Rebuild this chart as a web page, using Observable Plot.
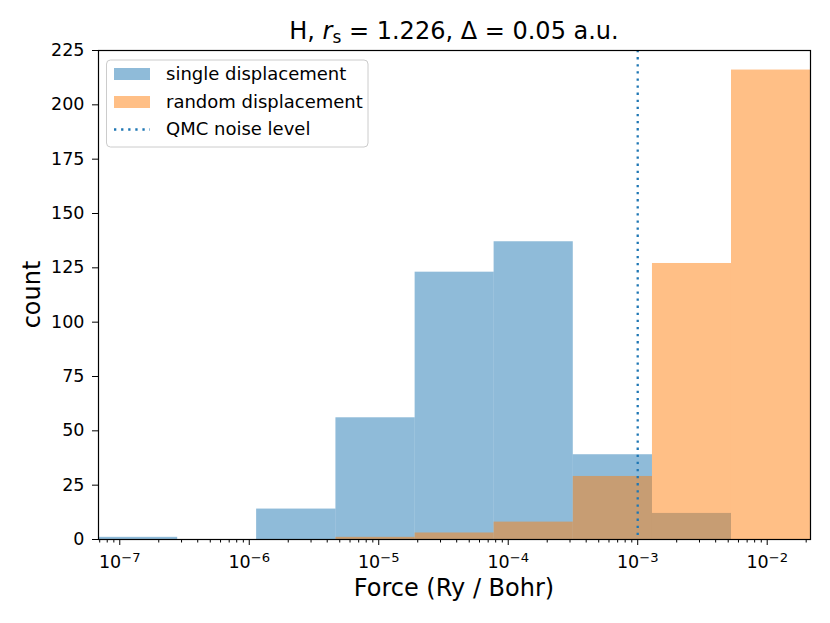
<!DOCTYPE html>
<html>
<head>
<meta charset="utf-8">
<script src="https://cdn.jsdelivr.net/npm/d3@7"></script>
<script src="https://cdn.jsdelivr.net/npm/@observablehq/plot@0.6"></script>
<style>
  body { margin: 0; background: #fff; }
  #wrap { width: 830px; height: 623px; }
</style>
</head>
<body>
<div id="wrap"></div>
<script>
// ---- data ----
const binEdges = [6.85e-8, 2.80e-7, 1.14e-6, 4.67e-6, 1.91e-5, 7.78e-5, 3.18e-4, 1.30e-3, 5.30e-3, 2.16e-2];
const singleCounts = [1, 0, 14, 56, 123, 137, 39, 12, 0];
const randomCounts = [0, 0, 0, 1, 3, 8, 29, 127, 216];
const noiseLevel = [1e-3];
const xMajorTicks = [1e-7, 1e-6, 1e-5, 1e-4, 1e-3, 1e-2];
const yTicks = [0, 25, 50, 75, 100, 125, 150, 175, 200, 225];
const seriesNames = ["single displacement", "random displacement", "QMC noise level"];
const titleText = "H, r_s = 1.226, Δ = 0.05 a.u.";
const xLabel = "Force (Ry / Bohr)";
const yLabel = "count";

const blue = "#1f77b4", orange = "#ff7f0e";
const FONT = "DejaVu Sans";

// minor log ticks 2..9 x 10^e inside domain
const xMinorTicks = [];
for (let e = -8; e <= -2; e++) for (let k = 2; k <= 9; k++) {
  const v = k * Math.pow(10, e);
  if (v >= binEdges[0] && v <= binEdges[binEdges.length - 1]) xMinorTicks.push(v);
}

const toBins = counts => counts.map((c, i) => ({x1: binEdges[i], x2: binEdges[i + 1], count: c})).filter(d => d.count > 0);

const chart = Plot.plot({
  width: 830, height: 623,
  marginTop: 50, marginBottom: 84, marginLeft: 98, marginRight: 20,
  style: {fontFamily: FONT, fontSize: "17px", color: "black", background: "white", overflow: "visible"},
  x: {type: "log", domain: [binEdges[0], binEdges[binEdges.length - 1]]},
  y: {domain: [0, 225]},
  marks: [
    Plot.rectY(toBins(singleCounts), {x1: "x1", x2: "x2", y: "count", fill: blue, fillOpacity: 0.5, inset: 0}),
    Plot.rectY(toBins(randomCounts), {x1: "x1", x2: "x2", y: "count", fill: orange, fillOpacity: 0.5, inset: 0}),
    Plot.ruleX(noiseLevel, {stroke: blue, strokeWidth: 2.3, strokeDasharray: "2.3,4.8"}),
    Plot.axisX({ticks: xMajorTicks, tickSize: 6, tickPadding: 10, tickFormat: d => "10^" + Math.round(Math.log10(d)), label: null, fontSize: 17.5}),
    Plot.axisX({ticks: xMinorTicks, tickSize: 3.5, tickFormat: () => "", label: null}),
    Plot.axisY({ticks: yTicks, tickSize: 6, tickPadding: 8, label: null, fontSize: 17.5}),
    Plot.frame({stroke: "black", strokeWidth: 1.2})
  ]
});
document.getElementById("wrap").appendChild(chart);

const svg = d3.select(chart);
// superscript exponents in x tick labels
svg.selectAll("text").each(function() {
  const t = this.textContent;
  const m = /^10\^(-?\d+)$/.exec(t);
  if (!m) return;
  const sel = d3.select(this);
  sel.text("");
  sel.append("tspan").text("10");
  sel.append("tspan").attr("dy", "-0.45em").attr("font-size", "0.75em").text(m[1].replace("-", "\u2212"));
});

const plotLeft = 98, plotRight = 810, plotTop = 50, plotBottom = 539;
const cx = (plotLeft + plotRight) / 2;

// title with italic r and subscript s
const tparts = titleText.split("r_s");
const title = svg.append("text").attr("x", cx).attr("y", 39.3).attr("text-anchor", "middle")
  .attr("font-family", FONT).attr("font-size", 24).attr("fill", "black");
title.append("tspan").text(tparts[0]);
title.append("tspan").attr("font-style", "italic").text("r");
title.append("tspan").attr("font-size", 17).attr("dy", 4).text("s");
title.append("tspan").attr("dy", -4).text(tparts[1]);

// axis labels
svg.append("text").attr("x", cx).attr("y", 596).attr("text-anchor", "middle")
  .attr("font-family", FONT).attr("font-size", 24).attr("fill", "black").text(xLabel);
svg.append("text").attr("transform", `translate(40,${(plotTop + plotBottom) / 2}) rotate(-90)`)
  .attr("text-anchor", "middle").attr("font-family", FONT).attr("font-size", 24).attr("fill", "black").text(yLabel);

// legend
const lg = svg.append("g").attr("font-family", FONT).attr("font-size", 18).attr("text-anchor", "start");
lg.append("rect").attr("x", 106.5).attr("y", 60).attr("width", 261.5).attr("height", 87).attr("rx", 4)
  .attr("fill", "white").attr("fill-opacity", 0.8).attr("stroke", "#cccccc").attr("stroke-width", 1);
lg.append("rect").attr("x", 114).attr("y", 68).attr("width", 36).attr("height", 12).attr("fill", blue).attr("fill-opacity", 0.5);
lg.append("rect").attr("x", 114).attr("y", 96).attr("width", 36).attr("height", 12).attr("fill", orange).attr("fill-opacity", 0.5);
lg.append("line").attr("x1", 114).attr("x2", 150).attr("y1", 129.5).attr("y2", 129.5)
  .attr("stroke", blue).attr("stroke-width", 2.3).attr("stroke-dasharray", "2.3,4.8");
[80, 107.7, 135].forEach((y, i) => {
  lg.append("text").attr("x", 166).attr("y", y).attr("text-anchor", "start").attr("fill", "black").text(seriesNames[i]);
});
</script>
</body>
</html>
